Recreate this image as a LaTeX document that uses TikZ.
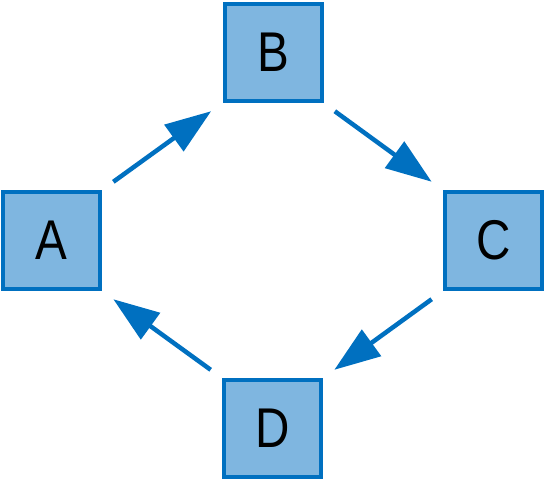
\documentclass[tikz,border=0pt]{standalone}
\usepackage{fontspec}
\setmainfont{Liberation Sans}
\newfontfamily\boxfont[FakeStretch=0.85]{Liberation Sans}
\usetikzlibrary{arrows.meta}
\definecolor{edgeblue}{HTML}{0070C0}
\definecolor{fillblue}{HTML}{7FB6E0}
\begin{document}
\begin{tikzpicture}[x=1pt,y=-1pt,
  box/.style={draw=edgeblue,fill=fillblue,line width=4pt,minimum size=97pt,inner sep=0pt,font=\boxfont\fontsize{56}{56}\selectfont},
  link/.style={draw=edgeblue,line width=4.5pt,-{Triangle[length=46pt,width=32pt]},shorten <=14pt,shorten >=14pt}]
\useasboundingbox (0,0) rectangle (546,482);
\node[box] (A) at (51.5,240.5) {A};
\node[box] (B) at (273,52.5) {B};
\node[box] (C) at (493.5,240.5) {C};
\node[box] (D) at (272.5,428.5) {D};
\draw[link] (A.north east) -- (B.south west);
\draw[link] (B.south east) -- (C.north west);
\draw[link] (C.south west) -- (D.north east);
\draw[link] (D.north west) -- (A.south east);
\end{tikzpicture}
\end{document}
